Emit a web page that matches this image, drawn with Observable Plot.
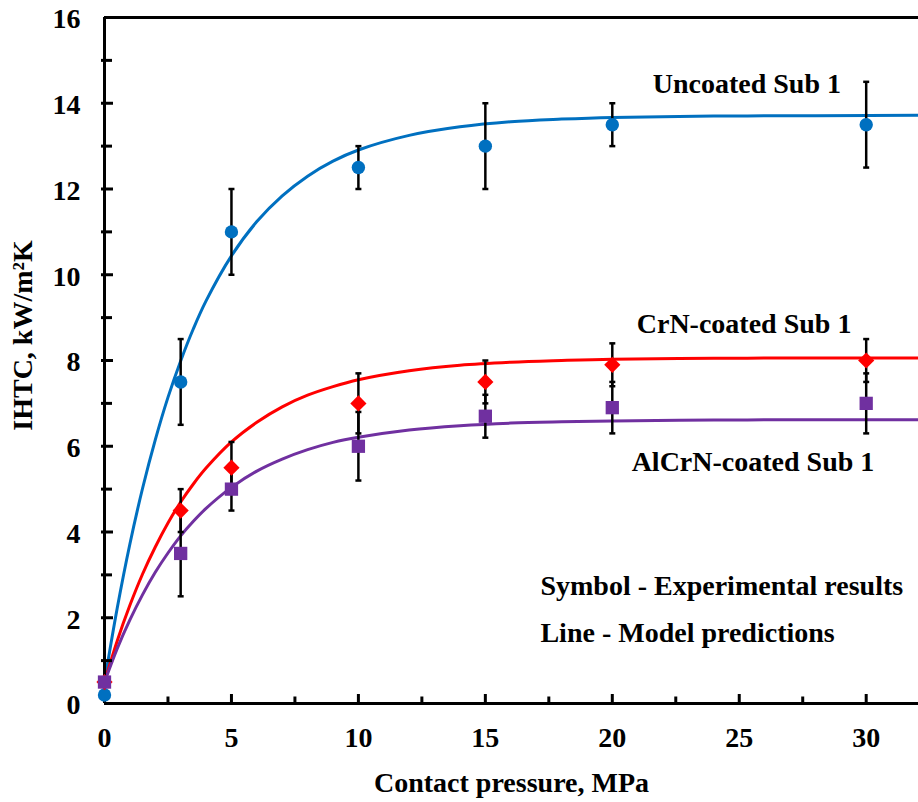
<!DOCTYPE html>
<html>
<head>
<meta charset="utf-8">
<script src="https://cdn.jsdelivr.net/npm/d3@7"></script>
<script src="https://cdn.jsdelivr.net/npm/@observablehq/plot@0.6"></script>
<style>
  html, body { margin: 0; padding: 0; background: #ffffff; }
  #chart svg { display: block; }
</style>
</head>
<body>
<div id="chart"></div>
<script>
// Measured interfacial heat transfer coefficient (IHTC) vs contact pressure
const pressure = [0, 3, 5, 10, 15, 20, 30];
const uncoated = [0.2, 7.5, 11.0, 12.5, 13.0, 13.5, 13.5];
const uncoatedErr = [0, 1.0, 1.0, 0.5, 1.0, 0.5, 1.0];
const crn = [0.5, 4.5, 5.5, 7.0, 7.5, 7.9, 8.0];
const crnErr = [0, 0.5, 0.6, 0.7, 0.5, 0.5, 0.5];
const alcrn = [0.5, 3.5, 5.0, 6.0, 6.7, 6.9, 7.0];
const alcrnErr = [0, 1.0, 0.5, 0.8, 0.5, 0.6, 0.7];

// Model prediction curves
const modelPressure = [0, 0.5, 1, 1.5, 2, 2.5, 3, 3.5, 4, 5, 6, 7, 8, 9, 10, 12, 14, 16, 18, 20, 24, 28, 33];
const uncoatedModel = [0.5, 2.22, 3.72, 5.02, 6.15, 7.14, 7.99, 8.74, 9.39, 10.44, 11.24, 11.84, 12.30, 12.65, 12.91, 13.25, 13.45, 13.57, 13.63, 13.67, 13.70, 13.71, 13.72];
const crnModel = [0.5, 1.46, 2.29, 3.02, 3.65, 4.21, 4.70, 5.12, 5.49, 6.10, 6.56, 6.92, 7.19, 7.39, 7.55, 7.76, 7.89, 7.96, 8.00, 8.03, 8.05, 8.06, 8.06];
const alcrnModel = [0.5, 1.28, 1.95, 2.54, 3.06, 3.51, 3.91, 4.25, 4.55, 5.04, 5.42, 5.70, 5.92, 6.09, 6.21, 6.38, 6.48, 6.54, 6.57, 6.59, 6.61, 6.62, 6.62];

const seriesNames = ["Uncoated Sub 1", "CrN-coated Sub 1", "AlCrN-coated Sub 1"];
const noteLines = ["Symbol - Experimental results", "Line - Model predictions"];

// Axis ticks
const xMajor = [0, 5, 10, 15, 20, 25, 30];
const xMinor = [2.5, 7.5, 12.5, 17.5, 22.5, 27.5];
const yMajor = [0, 2, 4, 6, 8, 10, 12, 14, 16];
const yMinor = [1, 3, 5, 7, 9, 11, 13, 15];

const series = [
  {name: seriesNames[0], values: uncoated, err: uncoatedErr, model: uncoatedModel, color: "#0070C0", symbol: "circle", r: 6.7},
  {name: seriesNames[1], values: crn, err: crnErr, model: crnModel, color: "#FF0000", symbol: "diamond2", r: 7.3},
  {name: seriesNames[2], values: alcrn, err: alcrnErr, model: alcrnModel, color: "#7030A0", symbol: "square", r: 7.5}
];

const points = series.flatMap(s => pressure.map((p, i) => ({series: s.name, p, v: s.values[i], e: s.err[i]})));
const bars = points.filter(d => d.e > 0);
const caps = bars.flatMap(d => [{p: d.p, v: d.v - d.e}, {p: d.p, v: d.v + d.e}]);
const modelRows = series.flatMap(s => modelPressure.map((p, i) => ({series: s.name, p, v: s.model[i]})));

// short horizontal cap for error bars
const capSymbol = {
  draw(context, size) {
    const w = Math.sqrt(size / Math.PI);
    context.moveTo(-w, 0);
    context.lineTo(w, 0);
  }
};

const W = 918, H = 802;
const margin = {left: 104, right: 0, top: 17, bottom: 99};
const frameW = W - margin.left - margin.right;
const frameH = H - margin.top - margin.bottom;

const font = "'Liberation Serif', 'Times New Roman', Times, serif";
const fs = 28;
const textStyle = {fontSize: fs, fontWeight: "bold", fontFamily: font, fill: "black"};
const tickStyle = {stroke: "black", strokeWidth: 3};

const marks = [
  // model lines
  Plot.line(modelRows, {x: "p", y: "v", z: "series", stroke: "series", strokeWidth: 3, curve: "catmull-rom", clip: true}),
  // frame: left axis, bottom axis, top border
  Plot.ruleX([0], {stroke: "black", strokeWidth: 3}),
  Plot.ruleY([0], {stroke: "black", strokeWidth: 3}),
  Plot.ruleY([16], {stroke: "black", strokeWidth: 3}),
  // short ticks pointing into the plot area (full-span rules cut down by insets)
  Plot.ruleY(yMajor.slice(1, -1), {y: d => d, insetLeft: -3, insetRight: frameW - 9, ...tickStyle}),
  Plot.ruleY(yMinor, {y: d => d, insetLeft: -3, insetRight: frameW - 8, ...tickStyle}),
  Plot.ruleX(xMajor.slice(1), {x: d => d, insetBottom: -1, insetTop: frameH - 9, ...tickStyle}),
  Plot.ruleX(xMinor, {x: d => d, insetBottom: -1, insetTop: frameH - 6.5, ...tickStyle}),
  // tick labels
  Plot.axisY({ticks: yMajor, tickSize: 0, tickPadding: 24, dy: 2, ...textStyle, label: null}),
  Plot.axisX({ticks: xMajor, tickSize: 0, tickPadding: 24, ...textStyle, label: null}),
  // error bars
  Plot.ruleX(bars, {x: "p", y1: d => d.v - d.e, y2: d => d.v + d.e, stroke: "black", strokeWidth: 2.5}),
  Plot.dot(caps, {x: "p", y: "v", symbol: capSymbol, r: 3, stroke: "black", strokeWidth: 2.5, fill: "none"}),
  // experimental symbols
  ...series.map(s => Plot.dot(points.filter(d => d.series === s.name), {x: "p", y: "v", symbol: s.symbol, r: s.r, fill: s.color, stroke: "none"})),
  // series labels
  Plot.text([seriesNames[0]], {x: 25.3, y: 14.44, text: d => d, textAnchor: "middle", lineAnchor: "middle", ...textStyle}),
  Plot.text([seriesNames[1]], {x: 25.19, y: 8.84, text: d => d, textAnchor: "middle", lineAnchor: "middle", ...textStyle}),
  Plot.text([seriesNames[2]], {x: 25.54, y: 5.64, text: d => d, textAnchor: "middle", lineAnchor: "middle", ...textStyle}),
  Plot.text([noteLines[0]], {x: 17.17, y: 2.75, text: d => d, textAnchor: "start", lineAnchor: "middle", ...textStyle}),
  Plot.text([noteLines[1]], {x: 17.17, y: 1.65, text: d => d, textAnchor: "start", lineAnchor: "middle", ...textStyle}),
  // axis titles
  Plot.text(["Contact pressure, MPa"], {frameAnchor: "bottom", dy: 80, text: d => d, textAnchor: "middle", lineAnchor: "middle", ...textStyle}),
  Plot.text(["IHTC, kW/m²K"], {frameAnchor: "left", dx: -81.5, dy: -25, rotate: -90, text: d => d, textAnchor: "middle", lineAnchor: "middle", ...textStyle})
];

const chart = Plot.plot({
  width: W,
  height: H,
  marginLeft: margin.left,
  marginRight: margin.right,
  marginTop: margin.top,
  marginBottom: margin.bottom,
  style: {fontFamily: font, fontSize: "28px", fontWeight: "bold", background: "#ffffff", color: "black"},
  x: {domain: [0, 32.06]},
  y: {domain: [0, 16]},
  color: {domain: seriesNames, range: series.map(s => s.color)},
  marks
});

document.getElementById("chart").appendChild(chart);
</script>
</body>
</html>
